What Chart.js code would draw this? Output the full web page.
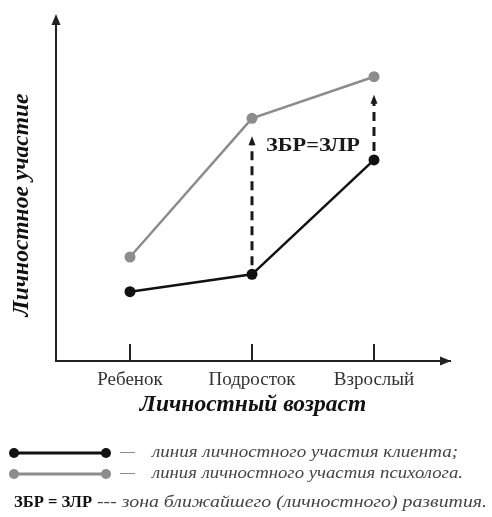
<!DOCTYPE html>
<html><head><meta charset="utf-8">
<script src="https://cdn.jsdelivr.net/npm/chart.js@4.4.1/dist/chart.umd.min.js"></script>
<style>html,body{margin:0;padding:0;background:#fff;}#wrap{width:492px;height:517px;position:relative;}</style>
</head><body><div id="wrap"><canvas id="c" width="492" height="517"></canvas></div>
<script>
const categories = ['Ребенок', 'Подросток', 'Взрослый'];
const clientValues = [2.0, 2.5, 5.8];
const psychologistValues = [3.0, 7.0, 8.2];
const xTitle = 'Личностный возраст';
const yTitle = 'Личностное участие';
const zoneLabel = 'ЗБР=ЗЛР';
const zoneIndices = [1, 2];
const legendLines = ['линия личностного участия клиента;', 'линия личностного участия психолога.'];
const legendNoteKey = 'ЗБР = ЗЛР';
const legendNoteText = '--- зона ближайшего (личностного) развития.';

const BLACK = '#111111';
const GRAY = '#8c8c8c';
const SERIF = '"Liberation Serif", "Times New Roman", serif';

function drawText(ctx, text, x, y, font, color, targetW, align) {
  ctx.save();
  ctx.font = font; ctx.fillStyle = color; ctx.textBaseline = 'middle'; ctx.textAlign = 'left';
  const w = ctx.measureText(text).width;
  const s = targetW ? targetW / w : 1;
  let x0 = x;
  if (align === 'center') x0 = x - (w * s) / 2;
  ctx.translate(x0, y); ctx.scale(s, 1); ctx.fillText(text, 0, 0);
  ctx.restore();
}

const decorations = {
  id: 'decorations',
  beforeDatasetsDraw(chart) {
    const ctx = chart.ctx, xs = chart.scales.x, ys = chart.scales.y, ca = chart.chartArea;
    ctx.save();
    ctx.strokeStyle = '#222'; ctx.fillStyle = '#222'; ctx.lineWidth = 2;
    ctx.beginPath(); ctx.moveTo(ca.left, ca.top + 1); ctx.lineTo(ca.left, 20); ctx.stroke();
    ctx.beginPath(); ctx.moveTo(ca.left, 14); ctx.lineTo(ca.left - 4.5, 25); ctx.lineTo(ca.left + 4.5, 25); ctx.closePath(); ctx.fill();
    ctx.beginPath(); ctx.moveTo(ca.right + 1, ca.bottom); ctx.lineTo(ca.right - 10, ca.bottom - 4.5); ctx.lineTo(ca.right - 10, ca.bottom + 4.5); ctx.closePath(); ctx.fill();
    categories.forEach((c, i) => {
      const x = xs.getPixelForValue(i + 1);
      ctx.beginPath(); ctx.moveTo(x, ca.bottom); ctx.lineTo(x, ca.bottom - 17); ctx.stroke();
    });
    ctx.lineWidth = 3; ctx.setLineDash([9, 6]); ctx.strokeStyle = '#1a1a1a'; ctx.fillStyle = '#1a1a1a';
    zoneIndices.forEach(i => {
      const x = xs.getPixelForValue(i + 1);
      const yLow = ys.getPixelForValue(clientValues[i]) - 9;
      const yHigh = ys.getPixelForValue(psychologistValues[i]) + 18;
      ctx.beginPath(); ctx.moveTo(x, yLow); ctx.lineTo(x, yHigh + 8); ctx.stroke();
      ctx.beginPath(); ctx.moveTo(x, yHigh); ctx.lineTo(x - 3.5, yHigh + 9); ctx.lineTo(x + 3.5, yHigh + 9); ctx.closePath(); ctx.fill();
    });
    ctx.setLineDash([]);
    const lx = (xs.getPixelForValue(zoneIndices[0] + 1) + xs.getPixelForValue(zoneIndices[1] + 1)) / 2;
    drawText(ctx, zoneLabel, lx, ys.getPixelForValue(6.2), 'bold 19px ' + SERIF, '#1a1a1a', 94, 'center');
    ctx.restore();
  },
  afterDraw(chart) {
    const ctx = chart.ctx;
    const ds = chart.data.datasets;
    const rows = [{y: 453, color: ds[0].borderColor, text: legendLines[0], w: 306},
                  {y: 474, color: ds[1].borderColor, text: legendLines[1], w: 311}];
    ctx.save();
    rows.forEach(r => {
      ctx.strokeStyle = r.color; ctx.fillStyle = r.color; ctx.lineWidth = 3;
      ctx.beginPath(); ctx.moveTo(14, r.y); ctx.lineTo(106, r.y); ctx.stroke();
      [14, 106].forEach(x => { ctx.beginPath(); ctx.arc(x, r.y, 5, 0, Math.PI * 2); ctx.fill(); });
      drawText(ctx, '—', 120, r.y - 1, '16px ' + SERIF, '#777', 15);
      drawText(ctx, r.text, 152, r.y, 'italic 17px ' + SERIF, '#444', r.w);
    });
    drawText(ctx, legendNoteKey, 14, 503, 'bold 16px ' + SERIF, '#111', 78);
    drawText(ctx, legendNoteText, 97, 503, 'italic 17px ' + SERIF, '#444', 390);
    ctx.restore();
  }
};

new Chart(document.getElementById('c'), {
  type: 'line',
  data: {
    datasets: [
      { label: 'клиент', data: clientValues.map((v, i) => ({x: i + 1, y: v})), borderColor: BLACK, backgroundColor: BLACK,
        borderWidth: 2.5, pointRadius: 5.5, pointBackgroundColor: BLACK, pointBorderWidth: 0, tension: 0 },
      { label: 'психолог', data: psychologistValues.map((v, i) => ({x: i + 1, y: v})), borderColor: GRAY, backgroundColor: GRAY,
        borderWidth: 2.5, pointRadius: 5.5, pointBackgroundColor: GRAY, pointBorderWidth: 0, tension: 0 }
    ]
  },
  options: {
    responsive: false, animation: false, devicePixelRatio: 1,
    layout: { padding: { left: 0, top: 49, right: 42, bottom: 96 } },
    plugins: { legend: { display: false }, tooltip: { enabled: false } },
    scales: {
      x: {
        type: 'linear', min: 0.3934, max: 3.623,
        afterFit: s => { s.height = 60; },
        afterBuildTicks: s => { s.ticks = categories.map((c, i) => ({value: i + 1})); },
        grid: { display: false, drawTicks: false },
        border: { display: true, color: '#222', width: 2 },
        ticks: { padding: 8, color: '#333', font: { family: SERIF, size: 19 }, callback: v => categories[v - 1] || '', autoSkip: false, maxRotation: 0 },
        title: { display: true, text: xTitle, color: '#111', font: { family: SERIF, size: 23.5, weight: 'bold', style: 'italic' }, padding: { top: 0, bottom: 2 } }
      },
      y: {
        min: 0, max: 9,
        afterFit: s => { s.width = 56; },
        grid: { display: false, drawTicks: false },
        border: { display: true, color: '#222', width: 2 },
        ticks: { display: false },
        title: { display: true, text: yTitle, color: '#111', font: { family: SERIF, size: 23.5, weight: 'bold', style: 'italic' }, padding: { top: 8, bottom: 0 } }
      }
    }
  },
  plugins: [decorations]
});
</script></body></html>
